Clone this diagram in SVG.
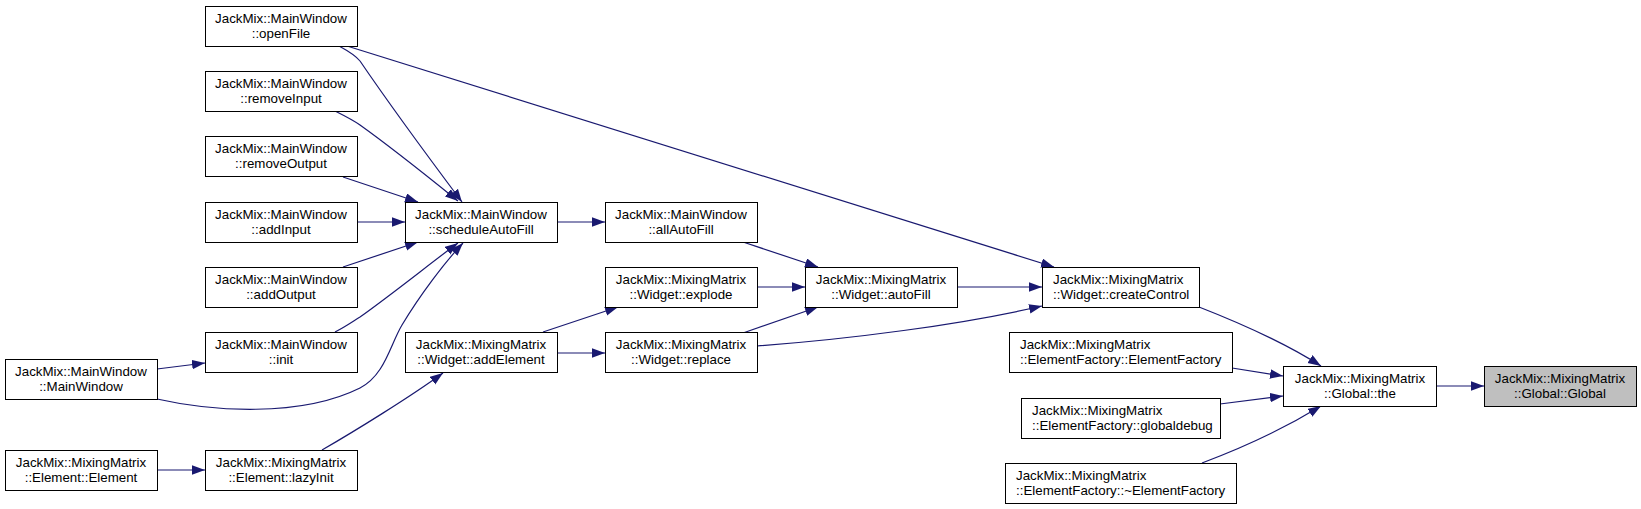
<svg xmlns="http://www.w3.org/2000/svg" width="1641" height="509" viewBox="0 0 1641 509">
<style>
.n rect{fill:#fff;stroke:#000;stroke-width:1}
.n.g rect{fill:#bfbfbf}
.n text{font-family:"Liberation Sans",Arial,sans-serif;font-size:13.33px;fill:#000;text-anchor:middle}
.n.l text{text-anchor:start}
.e path{fill:none;stroke:#191970;stroke-width:1.2;marker-end:url(#ah)}
</style>
<defs>
<marker id="ah" markerUnits="userSpaceOnUse" markerWidth="14" markerHeight="10" refX="13" refY="4.7" orient="auto">
<path d="M0,0 L13,4.7 L0,9.4 z" fill="#191970" stroke="none"/>
</marker>
</defs>
<rect width="1641" height="509" fill="#fff"/>
<g id="connectors" class="e">
<path d="M339,46 C350,52 356,56 360,61 C390,105 438,170 462,202"/>
<path d="M347,46 L1054,267"/>
<path d="M335,111 C345,116 353,120 360,125 C395,150 432,180 458,201"/>
<path d="M343,177 L418,202"/>
<path d="M357,222 L405,222"/>
<path d="M343,267 L418,242"/>
<path d="M335,332 C345,327 352,322 360,317 C395,292 432,262 458,243"/>
<path d="M157,369 L205,363"/>
<path d="M157,399 C210,411 300,418 360,388 C385,375 390,345 402,325 C420,295 445,262 463,243"/>
<path d="M557,222 L605,222"/>
<path d="M743,242 L818,267"/>
<path d="M757,287 L805,287"/>
<path d="M743,333 L818,307"/>
<path d="M543,332 L618,307"/>
<path d="M557,353 L605,353"/>
<path d="M157,470 L205,470"/>
<path d="M322,450 C355,431 410,397 443,373"/>
<path d="M957,287 L1042,287"/>
<path d="M757,346 C850,339 960,325 1042,306"/>
<path d="M1199,307 C1240,323 1285,343 1321,366"/>
<path d="M1232,368 L1283,376"/>
<path d="M1220,404 L1283,396"/>
<path d="M1202,463 C1245,447 1285,428 1321,406"/>
<path d="M1436,386 L1484,386"/>
</g>
<g id="openFile" class="n"><rect x="205.5" y="6.5" width="152" height="40"/><text x="281" y="22.5">JackMix::MainWindow</text><text x="281" y="37.5">::openFile</text></g>
<g id="removeInput" class="n"><rect x="205.5" y="71.5" width="152" height="40"/><text x="281" y="87.5">JackMix::MainWindow</text><text x="281" y="102.5">::removeInput</text></g>
<g id="removeOutput" class="n"><rect x="205.5" y="136.5" width="152" height="40"/><text x="281" y="152.5">JackMix::MainWindow</text><text x="281" y="167.5">::removeOutput</text></g>
<g id="addInput" class="n"><rect x="205.5" y="202.5" width="152" height="40"/><text x="281" y="218.5">JackMix::MainWindow</text><text x="281" y="233.5">::addInput</text></g>
<g id="addOutput" class="n"><rect x="205.5" y="267.5" width="152" height="40"/><text x="281" y="283.5">JackMix::MainWindow</text><text x="281" y="298.5">::addOutput</text></g>
<g id="init" class="n"><rect x="205.5" y="332.5" width="152" height="40"/><text x="281" y="348.5">JackMix::MainWindow</text><text x="281" y="363.5">::init</text></g>
<g id="MainWindow" class="n"><rect x="5.5" y="359.5" width="152" height="40"/><text x="81" y="375.5">JackMix::MainWindow</text><text x="81" y="390.5">::MainWindow</text></g>
<g id="ElementCtor" class="n"><rect x="5.5" y="450.5" width="152" height="40"/><text x="81" y="466.5">JackMix::MixingMatrix</text><text x="81" y="481.5">::Element::Element</text></g>
<g id="lazyInit" class="n"><rect x="205.5" y="450.5" width="152" height="40"/><text x="281" y="466.5">JackMix::MixingMatrix</text><text x="281" y="481.5">::Element::lazyInit</text></g>
<g id="scheduleAutoFill" class="n"><rect x="405.5" y="202.5" width="152" height="40"/><text x="481" y="218.5">JackMix::MainWindow</text><text x="481" y="233.5">::scheduleAutoFill</text></g>
<g id="addElement" class="n"><rect x="405.5" y="332.5" width="152" height="40"/><text x="481" y="348.5">JackMix::MixingMatrix</text><text x="481" y="363.5">::Widget::addElement</text></g>
<g id="allAutoFill" class="n"><rect x="605.5" y="202.5" width="152" height="40"/><text x="681" y="218.5">JackMix::MainWindow</text><text x="681" y="233.5">::allAutoFill</text></g>
<g id="explode" class="n"><rect x="605.5" y="267.5" width="152" height="40"/><text x="681" y="283.5">JackMix::MixingMatrix</text><text x="681" y="298.5">::Widget::explode</text></g>
<g id="replace" class="n"><rect x="605.5" y="332.5" width="152" height="40"/><text x="681" y="348.5">JackMix::MixingMatrix</text><text x="681" y="363.5">::Widget::replace</text></g>
<g id="autoFill" class="n"><rect x="805.5" y="267.5" width="152" height="40"/><text x="881" y="283.5">JackMix::MixingMatrix</text><text x="881" y="298.5">::Widget::autoFill</text></g>
<g id="createControl" class="n l"><rect x="1042.5" y="267.5" width="157" height="40"/><text x="1053" y="283.5">JackMix::MixingMatrix</text><text x="1053" y="298.5">::Widget::createControl</text></g>
<g id="EFctor" class="n l"><rect x="1009.5" y="332.5" width="223" height="40"/><text x="1020" y="348.5">JackMix::MixingMatrix</text><text x="1020" y="363.5">::ElementFactory::ElementFactory</text></g>
<g id="globaldebug" class="n l"><rect x="1021.5" y="398.5" width="199" height="40"/><text x="1032" y="414.5">JackMix::MixingMatrix</text><text x="1032" y="429.5">::ElementFactory::globaldebug</text></g>
<g id="EFdtor" class="n l"><rect x="1005.5" y="463.5" width="231" height="40"/><text x="1016" y="479.5">JackMix::MixingMatrix</text><text x="1016" y="494.5">::ElementFactory::~ElementFactory</text></g>
<g id="the" class="n"><rect x="1283.5" y="366.5" width="153" height="40"/><text x="1360" y="382.5">JackMix::MixingMatrix</text><text x="1360" y="397.5">::Global::the</text></g>
<g id="Global" class="n g"><rect x="1484.5" y="366.5" width="152" height="40"/><text x="1560" y="382.5">JackMix::MixingMatrix</text><text x="1560" y="397.5">::Global::Global</text></g>
</svg>
